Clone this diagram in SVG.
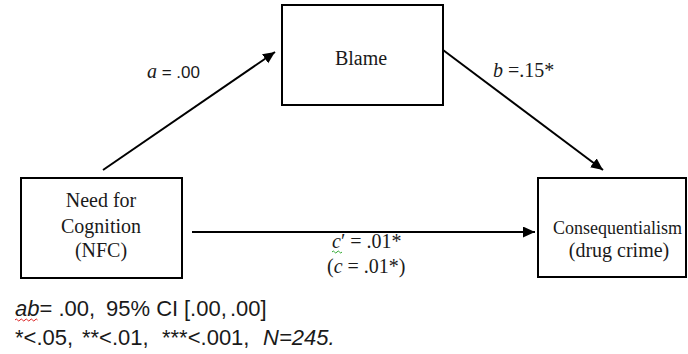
<svg xmlns="http://www.w3.org/2000/svg" width="688" height="354" viewBox="0 0 688 354">
<style>
.box{fill:#fff;stroke:#000;stroke-width:2}
.edge{stroke:#000;stroke-width:2;fill:none}
.t{font-family:"Liberation Serif","Times New Roman",serif;font-size:20px;fill:#1a1a1a}
.s{font-family:"Liberation Sans",Arial,sans-serif;fill:#1a1a1a}
.n{font-size:22px}
.i{font-style:italic}
.mid{text-anchor:middle}
</style>
<defs>
<marker id="arr" markerUnits="userSpaceOnUse" markerWidth="13" markerHeight="12" refX="12" refY="5.5" orient="auto">
<path d="M0,0 L12,5.5 L0,11 z" fill="#000"/>
</marker>
</defs>
<rect width="688" height="354" fill="#fff"/>
<g id="connectors">
<line class="edge" x1="103" y1="170" x2="275" y2="52" marker-end="url(#arr)"/>
<line class="edge" x1="443" y1="50" x2="603" y2="170" marker-end="url(#arr)"/>
<line class="edge" x1="192" y1="232" x2="535" y2="232" marker-end="url(#arr)"/>
<text class="t" x="147" y="78"><tspan class="i">a</tspan><tspan class="s" style="font-size:17px"> = .00</tspan></text>
<text class="t" x="493" y="77"><tspan class="i">b</tspan> =.15*</text>
<text class="t" x="332" y="248"><tspan class="i">c</tspan>′ = .01*</text>
<text class="t" x="327" y="273">(<tspan class="i">c</tspan> = .01*)</text>
<path d="M332,252 q1.25,-2 2.5,0 t2.5,0 t2.5,0 t2.5,0" stroke="#3a3" stroke-width="1" fill="none"/>
</g>
<g id="blame">
<rect class="box" x="282" y="5" width="161" height="100"/>
<text class="t mid" x="361" y="65">Blame</text>
</g>
<g id="nfc">
<rect class="box" x="21" y="178" width="161" height="100"/>
<text class="t mid" x="101" y="207">Need for</text>
<text class="t mid" x="101" y="233">Cognition</text>
<text class="t mid" x="101" y="257">(NFC)</text>
</g>
<g id="consequentialism">
<rect class="box" x="538" y="178" width="148" height="99"/>
<text class="t" x="553" y="234" style="font-size:18px">Consequentialism</text>
<text class="t mid" x="619" y="257">(drug crime)</text>
</g>
<g id="note">
<text class="s n" y="316"><tspan x="15" class="i">ab</tspan><tspan>= .00,</tspan><tspan x="106">95% CI</tspan><tspan x="184">[.00,</tspan><tspan x="230">.00]</tspan></text>
<path d="M15,320 q1.25,-2 2.5,0 t2.5,0 t2.5,0 t2.5,0 t2.5,0 t2.5,0 t2.5,0 t2.5,0 t2.5,0" stroke="#d22" stroke-width="1" fill="none"/>
<text class="s n" y="345"><tspan x="15">*&lt;.05,</tspan><tspan x="82">**&lt;.01,</tspan><tspan x="162">***&lt;.001,</tspan><tspan x="263" class="i">N=245.</tspan></text>
</g>
</svg>
